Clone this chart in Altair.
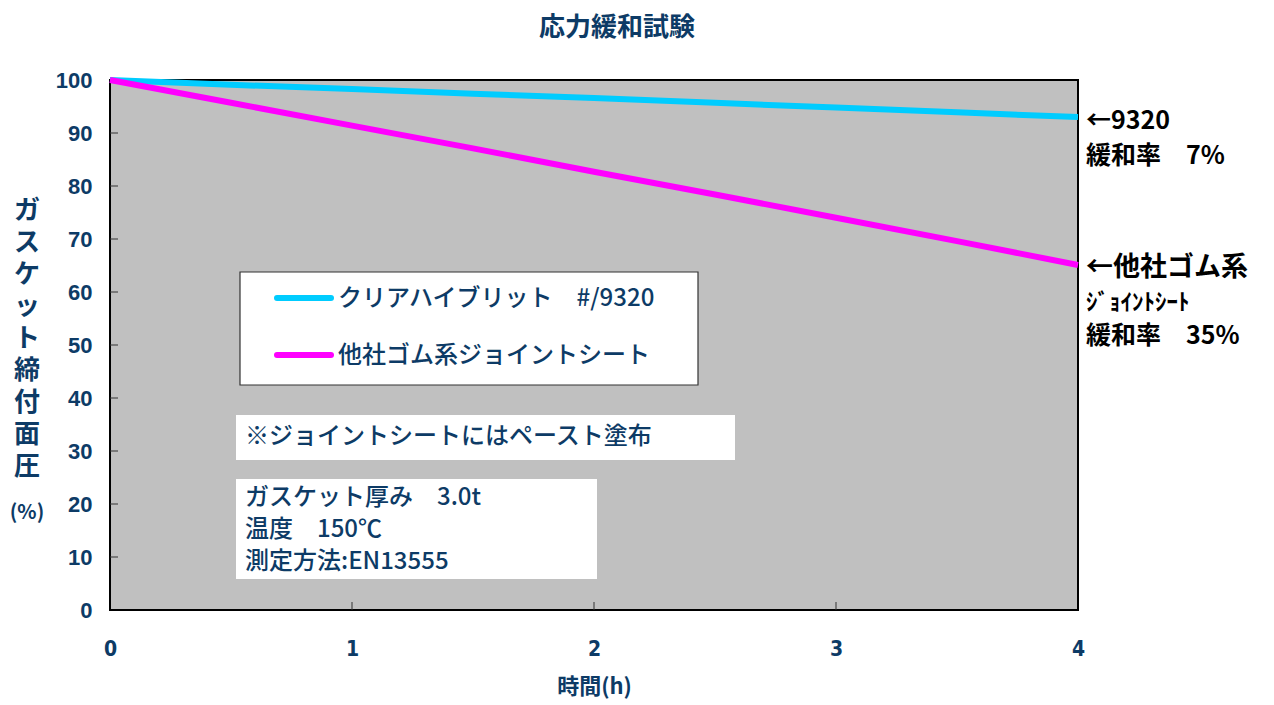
import altair as alt
import pandas as pd

# ---- data ----
hours = [0, 0.5, 1, 1.5, 2, 2.5, 3, 3.5, 4]
series_9320 = [100, 99.1, 98.3, 97.4, 96.6, 95.7, 94.8, 93.9, 93.0]
series_other = [100, 95.7, 91.4, 87.1, 82.7, 78.4, 74.0, 69.6, 65.1]
name_9320 = "クリアハイブリット　#/9320"
name_other = "他社ゴム系ジョイントシート"
x_ticks = [0, 1, 2, 3, 4]
y_ticks = [0, 10, 20, 30, 40, 50, 60, 70, 80, 90, 100]
inner_x_ticks = [1, 2, 3]
inner_y_ticks = [10, 20, 30, 40, 50, 60, 70, 80, 90]

NAVY = "#0d3b66"
JP = "Noto Sans CJK JP"

rows = []
for h, v in zip(hours, series_9320):
    rows.append({"h": h, "v": v, "s": name_9320})
for h, v in zip(hours, series_other):
    rows.append({"h": h, "v": v, "s": name_other})
df = pd.DataFrame(rows)

W, H = 968, 530
xs = alt.Scale(domain=[0, 4], nice=False)
ys = alt.Scale(domain=[0, 100], nice=False)

lines = alt.Chart(df).mark_line(strokeWidth=6, strokeCap="butt").encode(
    x=alt.X("h:Q", scale=xs,
            axis=alt.Axis(values=x_ticks, format="d", ticks=False, grid=False, domain=False,
                          labelFont="DejaVu Sans Condensed, DejaVu Sans", labelFontSize=21,
                          labelFontWeight="bold", labelColor=NAVY, labelPadding=28,
                          title="時間(h)", titleFont=JP, titleFontSize=22,
                          titleFontWeight="bold", titleColor=NAVY, titlePadding=17,
                          labelFlush=False)),
    y=alt.Y("v:Q", scale=ys,
            axis=alt.Axis(values=y_ticks, ticks=False, grid=False, domain=False,
                          labelFont="Liberation Sans", labelFontSize=22,
                          labelFontWeight="bold", labelColor=NAVY, labelPadding=18,
                          title=None)),
    color=alt.Color("s:N", scale=alt.Scale(domain=[name_9320, name_other],
                                            range=["#00ccff", "#ff00ff"]), legend=None),
    order=alt.Order("h:Q"),
)

# inner tick marks
xt = alt.Chart(pd.DataFrame({"h": inner_x_ticks})).mark_rule(color="#333", strokeWidth=1).encode(
    x=alt.X("h:Q", scale=xs), y=alt.value(H), y2=alt.value(H - 8))
yt = alt.Chart(pd.DataFrame({"v": inner_y_ticks})).mark_rule(color="#333", strokeWidth=1).encode(
    y=alt.Y("v:Q", scale=ys), x=alt.value(0), x2=alt.value(8))

one = pd.DataFrame({"a": [0]})

def box(x1, x2, y1, y2, stroke=None):
    kw = dict(fill="white")
    if stroke:
        kw.update(stroke=stroke, strokeWidth=1.2)
    return alt.Chart(one).mark_rect(**kw).encode(
        x=alt.value(x1), x2=alt.value(x2), y=alt.value(y1), y2=alt.value(y2))

def txt(s, x, y, size=24, color=NAVY, weight=500, font=JP, align="left", baseline="middle"):
    return alt.Chart(one).mark_text(text=s, fontSize=size, color=color, fontWeight=weight,
                                     font=font, align=align, baseline=baseline).encode(
        x=alt.value(x), y=alt.value(y))

def seg(x1, x2, y, color):
    return alt.Chart(one).mark_rule(color=color, strokeWidth=6, strokeCap="round").encode(
        x=alt.value(x1), x2=alt.value(x2), y=alt.value(y))

layers = [lines, xt, yt,
          box(130, 588, 192, 305, stroke="#333"),
          seg(167, 221, 218, "#00ccff"), seg(167, 221, 275, "#ff00ff"),
          txt(name_9320, 228, 219), txt(name_other, 228, 276),
          box(126, 625, 335, 380),
          txt("※ジョイントシートにはペースト塗布", 135, 357),
          box(126, 487, 399, 499),
          txt("ガスケット厚み　3.0t", 135, 418),
          txt("温度　150℃", 135, 450),
          txt("測定方法:EN13555", 135, 482),
          txt("←9320", 976, 41, size=25, color="black", weight="bold"),
          txt("緩和率　7%", 976, 76, size=25, color="black", weight="bold"),
          txt("←他社ゴム系", 976, 188, size=27, color="black", weight="bold"),
          txt("ｼﾞｮｲﾝﾄｼｰﾄ", 976, 223, size=23, color="black", weight="bold"),
          txt("緩和率　35%", 976, 256, size=25, color="black", weight="bold"),
          txt("応力緩和試験", 507, -52, size=26, weight="bold", align="center"),
          alt.Chart(one).mark_text(text="ガ\nス\nケ\nッ\nト\n締\n付\n面\n圧", lineBreak="\n",
                                   lineHeight=32, fontSize=26, fontWeight="bold", font=JP,
                                   color=NAVY, align="center", baseline="top").encode(
              x=alt.value(-83), y=alt.value(118)),
          txt("(%)", -83, 433, size=20, weight="bold", align="center"),
          ]

chart = alt.layer(*layers).properties(
    width=W, height=H,
    autosize=alt.AutoSizeParams(type="none"),
    padding={"left": 102, "top": 72, "right": 188, "bottom": 95},
    background="white",
).configure_view(fill="#c0c0c0", stroke="black", strokeWidth=2)

chart.save("out.html", embed_options={"renderer": "svg", "actions": False})
